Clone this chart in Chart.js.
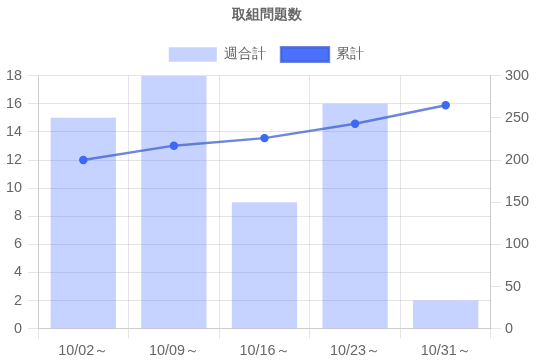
<!DOCTYPE html>
<html>
<head>
<meta charset="utf-8">
<script src="https://cdn.jsdelivr.net/npm/chart.js@4"></script>
<style>
  body { margin: 0; background: #fff; }
  #wrap { width: 540px; height: 364px; }
</style>
</head>
<body>
<div id="wrap"><canvas id="chart" width="540" height="364"></canvas></div>
<script>
// 週ごとの取組数と累計
const labels = ['10/02～', '10/09～', '10/16～', '10/23～', '10/31～'];
const weekly = [15, 18, 9, 16, 2];
const cumulative = [200, 217, 226, 243, 265];

Chart.defaults.font.size = 14.4;
Chart.defaults.color = '#666';

// 凡例の下に少し余白をつける
const legendMargin = {
  id: 'legendMargin',
  beforeInit(chart) {
    const fit = chart.legend.fit;
    chart.legend.fit = function() {
      fit.bind(chart.legend)();
      this.height += 4;
    };
  }
};

const ctx = document.getElementById('chart').getContext('2d');
new Chart(ctx, {
  type: 'bar',
  data: {
    labels: labels,
    datasets: [
      {
        type: 'bar',
        label: '週合計',
        data: weekly,
        backgroundColor: 'rgba(65,105,255,0.3)',
        yAxisID: 'y',
        order: 2
      },
      {
        type: 'line',
        label: '累計',
        data: cumulative,
        backgroundColor: 'rgb(75,112,252)',
        borderColor: 'rgba(60,95,210,0.75)',
        borderWidth: 2.4,
        pointRadius: 3.6,
        pointBorderWidth: 1.2,
        pointBackgroundColor: 'rgb(60,105,245)',
        pointBorderColor: 'rgb(60,105,245)',
        tension: 0,
        yAxisID: 'y1',
        order: 1
      }
    ]
  },
  plugins: [legendMargin],
  options: {
    responsive: false,
    animation: false,
    devicePixelRatio: 1,
    layout: { padding: { left: 0, right: 7 } },
    plugins: {
      title: {
        display: true,
        text: '取組問題数',
        padding: { top: 6, bottom: 9 }
      },
      legend: {
        labels: {
          boxWidth: 48,
          padding: 15,
          sort: (a, b) => a.datasetIndex - b.datasetIndex
        }
      }
    },
    scales: {
      x: {
        ticks: { padding: 4 },
        grid: { tickLength: 10 }
      },
      y: {
        position: 'left',
        min: 0,
        max: 18,
        ticks: { stepSize: 2, padding: 6 },
        grid: { tickLength: 10 }
      },
      y1: {
        position: 'right',
        min: 0,
        max: 300,
        ticks: { stepSize: 50, padding: 4 },
        grid: { drawOnChartArea: false, tickLength: 10 }
      }
    }
  }
});
</script>
</body>
</html>
